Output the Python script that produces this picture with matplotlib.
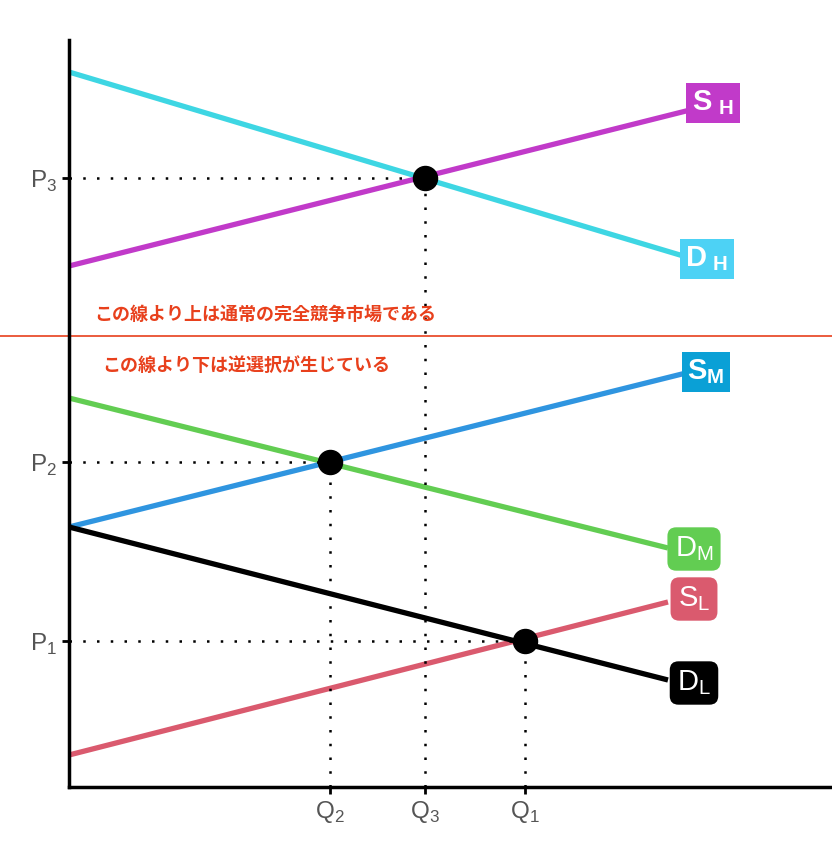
import matplotlib
matplotlib.use("Agg")
import matplotlib.pyplot as plt

plt.rcParams['font.family'] = ['Liberation Sans', 'DejaVu Sans']
plt.rcParams['mathtext.fontset'] = 'custom'
plt.rcParams['mathtext.rm'] = 'Liberation Sans'
plt.rcParams['mathtext.bf'] = 'Liberation Sans:bold'

# curve end points (x0, x1), (y0, y1)
dh_x = [0, 621]; dh_y = [715, 529]
sh_x = [0, 621]; sh_y = [521, 677]
sm_x = [0, 621]; sm_y = [260, 415]
dm_x = [0, 599]; dm_y = [389, 239]
dl_x = [0, 599]; dl_y = [260, 107]
sl_x = [0, 599]; sl_y = [32, 185]

# equilibria
eq_q = [356, 261, 456]
eq_p = [609, 325, 146]
p_labels = ['P$_3$', 'P$_2$', 'P$_1$']
q_labels = ['Q$_3$', 'Q$_2$', 'Q$_1$']

border_y = 451
note_above = 'この線より上は通常の完全競争市場である'
note_below = 'この線より下は逆選択が生じている'

fig = plt.figure(figsize=(8.32, 8.48), dpi=100)
ax = fig.add_axes([69/832, 61/848, 763/832, 747/848])
ax.set_xlim(0, 763)
ax.set_ylim(0, 747)

lw = 3.8
ax.plot(dh_x, dh_y, color='#3ed6e3', lw=lw, solid_capstyle='butt')
ax.plot(sh_x, sh_y, color='#c13ac9', lw=lw, solid_capstyle='butt')
ax.plot(dm_x, dm_y, color='#62cd52', lw=lw, solid_capstyle='butt')
ax.plot(sm_x, sm_y, color='#2f95e0', lw=lw, solid_capstyle='butt')
ax.plot(sl_x, sl_y, color='#da5a6e', lw=lw, solid_capstyle='butt')
ax.plot(dl_x, dl_y, color='black', lw=lw, solid_capstyle='butt')

# border line between the two markets
ax.plot([-69, 763], [border_y, border_y], color='#e8401c', lw=1.2, clip_on=False)

for q, p in zip(eq_q, eq_p):
    ax.plot([0, q], [p, p], color='black', lw=1.8, ls=(0, (1, 4.5)))
    ax.plot([q, q], [0, p], color='black', lw=1.8, ls=(0, (1, 4.5)))
ax.scatter(eq_q, eq_p, s=300, color='black', zorder=5)

ax.set_yticks(eq_p)
ax.set_yticklabels(p_labels)
ax.set_xticks(eq_q)
ax.set_xticklabels(q_labels)
ax.tick_params(labelsize=17.5, labelcolor='#555555', width=2, length=5, color='black')
ax.spines['top'].set_visible(False)
ax.spines['right'].set_visible(False)
ax.spines['left'].set_linewidth(2.5)
ax.spines['bottom'].set_linewidth(2.5)

jp = ['Noto Sans CJK JP', 'DejaVu Sans']
ax.text(196, 473, note_above, family=jp, fontsize=13, fontweight='bold',
        color='#e8401c', ha='center', va='center')
ax.text(177, 422, note_below, family=jp, fontsize=13, fontweight='bold',
        color='#e8401c', ha='center', va='center')

def tag(x, y, txt, fc, bold, rounded):
    style = 'round,pad=0.25,rounding_size=0.3' if rounded else 'square,pad=0.2'
    ax.text(x, y, txt, fontsize=21, color='white', ha='center', va='center',
            fontweight='bold' if bold else 'normal',
            bbox=dict(boxstyle=style, fc=fc, ec='none'), zorder=6)

tag(644, 684, r'$\mathbf{S}_{\ \mathbf{H}}$', '#c13ac9', True, False)
tag(638, 528, r'$\mathbf{D}_{\ \mathbf{H}}$', '#4dd2f5', True, False)
tag(637, 415, r'$\mathbf{S}_{\mathbf{M}}$', '#0aa0d6', True, False)
tag(625, 238, r'$\mathrm{D}_{\mathrm{M}}$', '#62cd52', False, True)
tag(625, 188, r'$\mathrm{S}_{\mathrm{L}}$', '#da5a6e', False, True)
tag(625, 104, r'$\mathrm{D}_{\mathrm{L}}$', 'black', False, True)

fig.savefig('out.png', dpi=100)
